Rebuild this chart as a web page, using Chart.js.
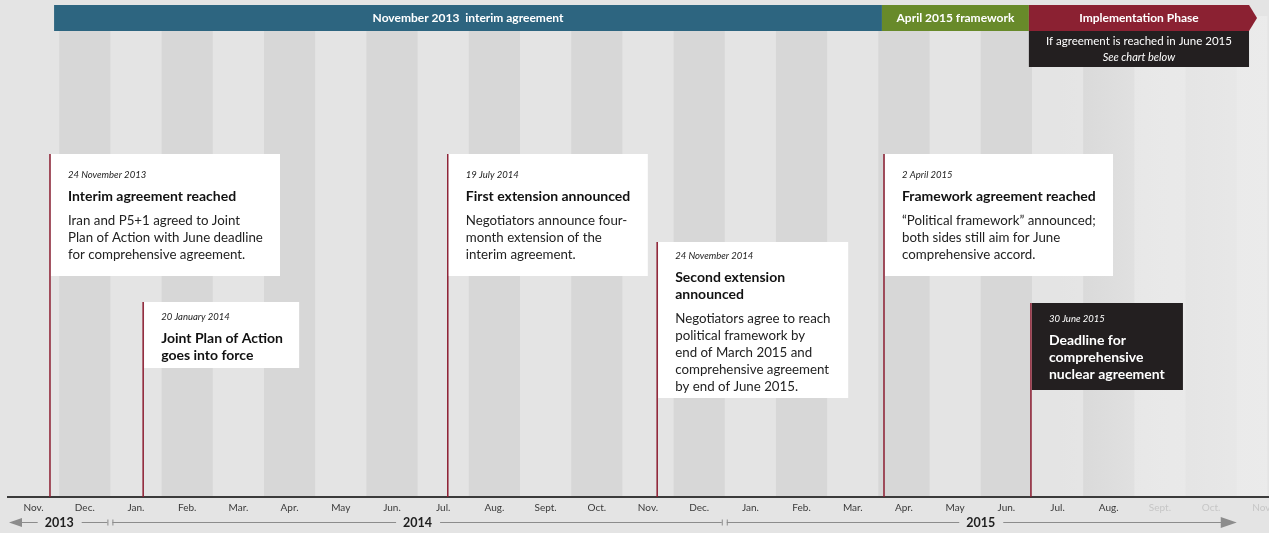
<!DOCTYPE html>
<html>
<head>
<meta charset="utf-8">
<script src="https://cdn.jsdelivr.net/npm/chart.js@4.4.1/dist/chart.umd.min.js"></script>
<style>
  html, body { margin: 0; padding: 0; background: #e3e3e3; }
  #wrap { width: 1269px; height: 533px; position: relative; }
</style>
</head>
<body>
<div id="wrap"><canvas id="timeline"></canvas></div>
<script>
// month axis, Nov 2013 .. Nov 2015 (value i = start of month i)
const monthLabels = ['Nov.', 'Dec.', 'Jan.', 'Feb.', 'Mar.', 'Apr.', 'May', 'Jun.', 'Jul.', 'Aug.', 'Sept.', 'Oct.',
  'Nov.', 'Dec.', 'Jan.', 'Feb.', 'Mar.', 'Apr.', 'May', 'Jun.', 'Jul.', 'Aug.', 'Sept.', 'Oct.', 'Nov.'];
const yearLabels = ['2013', '2014', '2015'];
const yearStart = [0, 2, 14];
const yearEnd = [2, 14, 24];

// phase bars along the top
const phaseLabels = ['November 2013  interim agreement', 'April 2015 framework', 'Implementation Phase'];
const phaseStart = [0.9, 17.07, 19.94];
const phaseEnd = [17.07, 19.94, 24.24];
const phaseNote = ['If agreement is reached in June 2015', 'See chart below'];

// events (position in months since 1 Nov 2013)
const eventMonth = [0.82, 2.64, 8.59, 12.68, 17.11, 19.98];
const eventDates = ['24 November 2013', '20 January 2014', '19 July 2014', '24 November 2014', '2 April 2015', '30 June 2015'];
const eventTitles = [
  ['Interim agreement reached'],
  ['Joint Plan of Action', 'goes into force'],
  ['First extension announced'],
  ['Second extension', 'announced'],
  ['Framework agreement reached'],
  ['Deadline for', 'comprehensive', 'nuclear agreement']
];
const eventBodies = [
  ['Iran and P5+1 agreed to Joint', 'Plan of Action with June deadline', 'for comprehensive agreement.'],
  [],
  ['Negotiators announce four-', 'month extension of the', 'interim agreement.'],
  ['Negotiators agree to reach', 'political framework by', 'end of March 2015 and', 'comprehensive agreement', 'by end of June 2015.'],
  ['\u201cPolitical framework\u201d announced;', 'both sides still aim for June', 'comprehensive accord.'],
  []
];

// box layout (y in px from top, via reversed y scale)
const AXIS_Y = 497;
const boxes = [
  { top: 154, bottom: 276, width: 229, pad: 21 },
  { top: 302, bottom: 368, width: 155, pad: 15 },
  { top: 154, bottom: 276, width: 199, pad: 21 },
  { top: 242, bottom: 398, width: 190, pad: 14 },
  { top: 154, bottom: 276, width: 228, pad: 21 },
  { top: 303, bottom: 390, width: 151, pad: 16, dark: true }
];

const FONT = 'Lato, "Open Sans", sans-serif';
const phaseColors = ['#2d6580', '#688a2a', '#8b2132'];
const lineRed = '#8c1d31';

const backdrop = {
  id: 'backdrop',
  beforeDraw(chart) {
    const { ctx, scales: { x, y } } = chart;
    ctx.save();
    ctx.fillStyle = '#e4e4e4';
    ctx.fillRect(0, 0, chart.width, chart.height);
    // month stripes
    const sTop = y.getPixelForValue(16), sBot = y.getPixelForValue(AXIS_Y - 1);
    monthLabels.forEach((m, i) => {
      if (i % 2 === 1) {
        const x0 = x.getPixelForValue(i), x1 = Math.min(x.getPixelForValue(i + 1), chart.width);
        ctx.fillStyle = '#d7d7d7';
        ctx.fillRect(x0, sTop, x1 - x0, sBot - sTop);
      }
    });
    // washed-out future months
    const f0 = x.getPixelForValue(20.5), f1 = x.getPixelForValue(24.6);
    const g = ctx.createLinearGradient(f0, 0, f1, 0);
    g.addColorStop(0, 'rgba(236,236,236,0)');
    g.addColorStop(0.5, 'rgba(236,236,236,0.6)');
    g.addColorStop(1, 'rgba(236,236,236,0.85)');
    ctx.fillStyle = g;
    ctx.fillRect(f0, sTop, f1 - f0, sBot - sTop);

    // phase bars
    const bTop = y.getPixelForValue(5), bBot = y.getPixelForValue(31);
    phaseLabels.forEach((p, i) => {
      const x0 = x.getPixelForValue(phaseStart[i]), x1 = x.getPixelForValue(phaseEnd[i]);
      ctx.fillStyle = phaseColors[i];
      ctx.beginPath();
      ctx.moveTo(x0, bTop);
      ctx.lineTo(x1, bTop);
      if (i === phaseLabels.length - 1) ctx.lineTo(x1 + 8, (bTop + bBot) / 2);
      ctx.lineTo(x1, bBot);
      ctx.lineTo(x0, bBot);
      ctx.closePath();
      ctx.fill();
      ctx.fillStyle = '#ffffff';
      ctx.font = 'bold 12px ' + FONT;
      ctx.textAlign = 'center';
      ctx.textBaseline = 'middle';
      ctx.fillText(p, (x0 + x1) / 2, (bTop + bBot) / 2 + 0.5);
    });
    // note under implementation phase
    const n = phaseLabels.length - 1;
    const nx0 = x.getPixelForValue(phaseStart[n]), nx1 = x.getPixelForValue(phaseEnd[n]);
    const nBot = y.getPixelForValue(67);
    ctx.fillStyle = '#231f20';
    ctx.fillRect(nx0, bBot, nx1 - nx0, nBot - bBot);
    ctx.fillStyle = '#ffffff';
    ctx.font = '11.5px ' + FONT;
    ctx.fillText(phaseNote[0], (nx0 + nx1) / 2, y.getPixelForValue(41));
    ctx.font = 'italic 11px ' + FONT;
    ctx.fillText(phaseNote[1], (nx0 + nx1) / 2, y.getPixelForValue(57));
    ctx.restore();
  },
  afterDatasetsDraw(chart) {
    const { ctx, scales: { x, y } } = chart;
    ctx.save();
    ctx.textAlign = 'left';
    ctx.textBaseline = 'middle';
    eventMonth.forEach((m, i) => {
      const b = boxes[i];
      const left = x.getPixelForValue(m) + 1;
      const top = y.getPixelForValue(b.top), bot = y.getPixelForValue(b.bottom);
      ctx.fillStyle = b.dark ? '#231f20' : '#ffffff';
      ctx.fillRect(left, top, b.width, bot - top);
      const tx = left + 17;
      let ty = top + b.pad;
      ctx.fillStyle = b.dark ? '#ffffff' : '#222222';
      ctx.font = 'italic 9.5px ' + FONT;
      ctx.fillText(eventDates[i], tx, ty);
      ty += 21;
      ctx.fillStyle = b.dark ? '#ffffff' : '#111111';
      ctx.font = 'bold 14px ' + FONT;
      eventTitles[i].forEach((t, k) => {
        ctx.fillText(t, tx, ty);
        if (k < eventTitles[i].length - 1) ty += 17;
      });
      ty += 25;
      ctx.fillStyle = '#222222';
      ctx.font = '13.3px ' + FONT;
      eventBodies[i].forEach(t => {
        ctx.fillText(t, tx, ty);
        ty += 17;
      });
    });
    ctx.restore();
  },
  afterDraw(chart) {
    const { ctx, scales: { x } } = chart;
    const yy = 522;
    ctx.save();
    ctx.strokeStyle = '#8c8c8c';
    ctx.fillStyle = '#8c8c8c';
    ctx.lineWidth = 1;
    ctx.font = 'bold 12.5px ' + FONT;
    ctx.textAlign = 'center';
    ctx.textBaseline = 'middle';
    const last = yearLabels.length - 1;
    yearLabels.forEach((yr, i) => {
      const x0 = x.getPixelForValue(yearStart[i]) + (i === 0 ? 1 : 2);
      const x1 = x.getPixelForValue(yearEnd[i]) - (i === last ? 0 : 3);
      const mid = (x.getPixelForValue(yearStart[i]) + x.getPixelForValue(yearEnd[i])) / 2;
      const w = ctx.measureText(yr).width;
      ctx.beginPath();
      ctx.moveTo(x0 + (i === 0 ? 10 : 0), yy + 0.5);
      ctx.lineTo(mid - w / 2 - 7, yy + 0.5);
      ctx.moveTo(mid + w / 2 + 8, yy + 0.5);
      ctx.lineTo(x1 - (i === last ? 14 : 0), yy + 0.5);
      if (i > 0) { ctx.moveTo(x0 + 0.5, yy - 2.5); ctx.lineTo(x0 + 0.5, yy + 3.5); }
      if (i < last) { ctx.moveTo(x1 + 0.5, yy - 2.5); ctx.lineTo(x1 + 0.5, yy + 3.5); }
      ctx.stroke();
      if (i === 0) {
        ctx.beginPath();
        ctx.moveTo(x0, yy + 0.5);
        ctx.lineTo(x0 + 13, yy - 4);
        ctx.lineTo(x0 + 13, yy + 5);
        ctx.closePath();
        ctx.fill();
      }
      if (i === last) {
        ctx.beginPath();
        ctx.moveTo(x1, yy + 0.5);
        ctx.lineTo(x1 - 16, yy - 5);
        ctx.lineTo(x1 - 16, yy + 6);
        ctx.closePath();
        ctx.fill();
      }
      ctx.fillStyle = '#1e1e1e';
      ctx.fillText(yr, mid, yy + 0.5);
      ctx.fillStyle = '#8c8c8c';
    });
    ctx.restore();
  }
};

var ctx = document.getElementById('timeline');
new Chart(ctx, {
  type: 'scatter',
  data: {
    datasets: eventMonth.map((m, i) => ({
      label: eventDates[i],
      data: [{ x: m, y: boxes[i].top }, { x: m, y: AXIS_Y }],
      showLine: true,
      borderColor: lineRed,
      borderWidth: 1.5,
      pointRadius: 0
    }))
  },
  options: {
    responsive: true,
    maintainAspectRatio: false,
    animation: false,
    layout: { padding: { left: 8, right: 0, top: 0, bottom: 0 } },
    plugins: {
      legend: { display: false },
      tooltip: { enabled: false }
    },
    scales: {
      x: {
        type: 'linear',
        min: 0,
        max: 24.63,
        afterBuildTicks: s => { s.ticks = monthLabels.map((l, i) => ({ value: i + 0.5 })); },
        afterFit: s => { s.height = 36; s.paddingLeft = 0; s.paddingRight = 0; },
        grid: { display: false, drawTicks: false },
        border: { display: true, color: '#3b3b3b', width: 2 },
        ticks: {
          autoSkip: false,
          maxRotation: 0,
          padding: 5,
          font: { family: 'Lato', size: 10 },
          color: c => c.index >= 22 ? '#c6c6c6' : '#3a3a3a',
          callback: (v, i) => monthLabels[i]
        }
      },
      y: { type: 'linear', display: false, reverse: true, min: 0, max: AXIS_Y }
    }
  },
  plugins: [backdrop]
});
</script>
</body>
</html>
